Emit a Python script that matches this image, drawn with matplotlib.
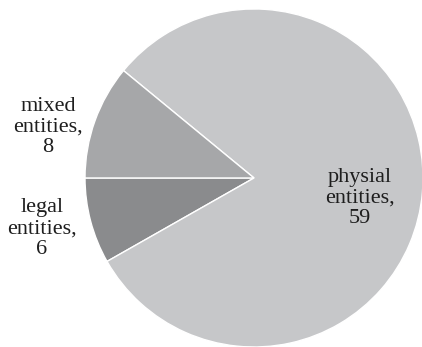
import matplotlib.pyplot as plt

# slice values, in drawing order (counter-clockwise from the left horizontal)
labels = ['legal\nentities,\n6', 'physial\nentities,\n59', 'mixed\nentities,\n8']
values = [6, 59, 8]
colors = ['#8a8b8d', '#c6c7c9', '#a6a7a9']

# label positions (data units, pie radius = 1)
label_x = [-1.255, 0.627, -1.218]
label_y = [-0.30, -0.12, 0.30]

fig = plt.figure(figsize=(4.22, 3.47), dpi=100)
ax = fig.add_axes([0, 0, 1, 1])
ax.pie(values, colors=colors, startangle=180, counterclock=True,
       wedgeprops=dict(edgecolor='white', linewidth=1.0))
for lab, x, y in zip(labels, label_x, label_y):
    ax.text(x, y, lab, ha='center', va='center', fontsize=16,
            family='Liberation Serif', color='#1e1e1e', linespacing=1.12)

ax.set_aspect('equal')
ax.set_xlim(-1.503, 0.994)
ax.set_ylim(-1.0, 1.053)
ax.axis('off')

plt.savefig('out.png', dpi=100)
